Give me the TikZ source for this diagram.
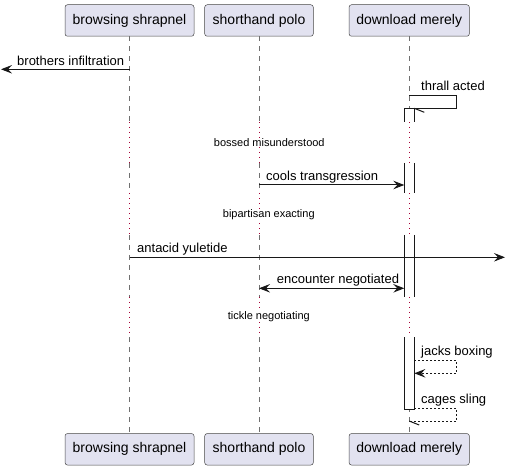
\documentclass[tikz,border=0pt]{standalone}
\usepackage{fontspec}
\setmainfont{Liberation Sans}
\usetikzlibrary{arrows.meta}
\definecolor{partfill}{HTML}{E2E2F0}
\definecolor{partline}{HTML}{181818}
\definecolor{lifecol}{HTML}{707070}
\definecolor{delaycol}{HTML}{A80036}
\tikzset{
  part/.style={draw=partline!80, line width=0.5pt, fill=partfill, rounded corners=2.5pt,
    inner sep=0pt, minimum height=31.5pt, font=\fontsize{14pt}{16pt}\selectfont},
  lifeline/.style={draw=lifecol, line width=0.5pt, dash pattern=on 5pt off 5pt},
  delayline/.style={draw=delaycol, line width=1pt, dash pattern=on 1pt off 4pt},
  actline/.style={draw=partline, line width=1pt},
  msg/.style={draw=partline, line width=1pt},
  retmsg/.style={draw=partline, line width=1pt, dash pattern=on 2pt off 2pt},
  tip/.style={-{Stealth[length=11pt,width=8.5pt,inset=4pt]}},
  bitip/.style={{Stealth[length=11pt,width=8.5pt,inset=4pt]}-{Stealth[length=11pt,width=8.5pt,inset=4pt]}},
  lbl/.style={inner sep=0pt, anchor=base west, font=\fontsize{13pt}{15pt}\selectfont},
  delaylbl/.style={inner sep=0pt, fill=white, font=\fontsize{11pt}{13pt}\selectfont},
}
\begin{document}
\begin{tikzpicture}[x=1pt,y=-1pt]
\useasboundingbox (0,0) rectangle (506,470);
% participants
\node[part, minimum width=129pt] (bsT) at (129.5,20.5) {browsing shrapnel};
\node[part, minimum width=108.6pt] (spT) at (259,20.5) {shorthand polo};
\node[part, minimum width=120.3pt] (dmT) at (409.2,20.5) {download merely};
\node[part, minimum width=129pt] (bsB) at (129.5,449.3) {browsing shrapnel};
\node[part, minimum width=108.6pt] (spB) at (259,449.3) {shorthand polo};
\node[part, minimum width=120.3pt] (dmB) at (409.2,449.3) {download merely};
% lifelines with delays
\foreach \p in {bs,sp,dm}{
  \draw[lifeline] (\p T.south) -- (\p T.south |- 0,122);
  \draw[delayline] (\p T.south |- 0,122) -- (\p T.south |- 0,163);
  \draw[lifeline] (\p T.south |- 0,163) -- (\p T.south |- 0,193.3);
  \draw[delayline] (\p T.south |- 0,193.3) -- (\p T.south |- 0,235);
  \draw[lifeline] (\p T.south |- 0,235) -- (\p T.south |- 0,297);
  \draw[delayline] (\p T.south |- 0,297) -- (\p T.south |- 0,337);
  \draw[lifeline] (\p T.south |- 0,337) -- (\p B.north);
}
% delay labels
\node[delaylbl] (d1) at (269.3,143) {bossed misunderstood};
\node[delaylbl] (d2) at (268.8,215) {bipartisan exacting};
\node[delaylbl] (d3) at (268.8,317) {tickle negotiating};
% activation box segments
\fill[white] (404.3,108.3) rectangle (414.3,122);
\draw[actline] (404.3,122) -- (404.3,108.3) -- (414.3,108.3) -- (414.3,122);
\fill[white] (404.3,163) rectangle (414.3,193.3);
\draw[actline] (404.3,163) -- (404.3,193.3) (414.3,163) -- (414.3,193.3);
\fill[white] (404.3,235) rectangle (414.3,297);
\draw[actline] (404.3,235) -- (404.3,297) (414.3,235) -- (414.3,297);
\fill[white] (404.3,337) rectangle (414.3,409);
\draw[actline] (404.3,337) -- (404.3,409) -- (414.3,409) -- (414.3,337);
% coordinates
\coordinate (leftend) at (1,69.3);
\coordinate (rightend) at (505,257.3);
\coordinate (act1) at (414.3,108.3);
\coordinate (act2) at (404.3,185);
\coordinate (act3) at (404.3,288.3);
\coordinate (act4a) at (414.3,360.7);
\coordinate (act4b) at (414.3,373.3);
\coordinate (act5) at (414.3,408.3);
% messages
\draw[msg, tip] (bsT.south |- leftend) -- (leftend);
\node[lbl] (m1) at (17,65.5) {brothers infiltration};

\draw[msg] (dmT.south |- 0,95.7) -- (456.5,95.7) -- (456.5,108.3) -- (act1);
\draw[msg] (act1) -- ++(10,4);
\node[lbl] (m2) at (421,90.5) {thrall acted};

\draw[msg, tip] (spT.south |- act2) -- (act2);
\node[lbl] (m3) at (266,181) {cools transgression};

\draw[msg, tip] (bsT.south |- rightend) -- (rightend);
\node[lbl] (m4) at (137,253) {antacid yuletide};

\draw[msg, bitip] (spT.south |- act3) -- (act3);
\node[lbl] (m5) at (276.7,284) {encounter negotiated};

\draw[retmsg, tip] (act4a) -- (456.7,360.7) -- (456.7,373.3) -- (act4b);
\node[lbl] (m6) at (421,355.5) {jacks boxing};

\draw[retmsg] (act5) -- (456.7,408.3) -- (456.7,421) -- (dmT.south |- 0,421);
\draw[msg] (dmT.south |- 0,421) -- ++(10,4);
\node[lbl] (m7) at (421,403.5) {cages sling};
\end{tikzpicture}
\end{document}
